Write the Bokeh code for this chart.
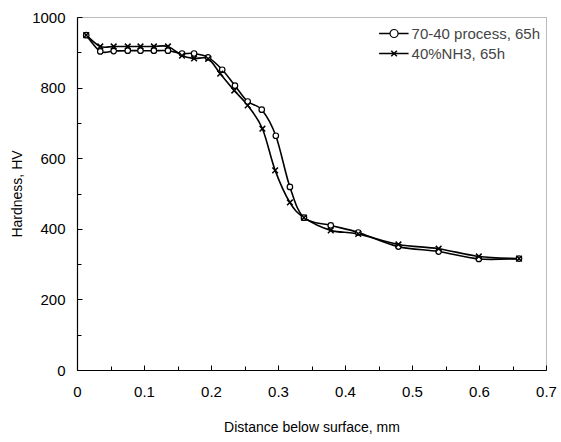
import numpy as np
from bokeh.plotting import figure
from bokeh.models import ColumnDataSource, FixedTicker, Legend, LegendItem, Range1d
from bokeh.embed import file_html
from bokeh.resources import INLINE

# ---- data ----
s1_name = "70-40 process, 65h"
s1_x = [0.013, 0.034, 0.054, 0.075, 0.094, 0.114, 0.135, 0.156, 0.174, 0.195, 0.216, 0.235,
        0.254, 0.275, 0.296, 0.317, 0.338, 0.378, 0.419, 0.479, 0.539, 0.599, 0.659]
s1_y = [950, 904, 905, 906, 906, 906, 906, 898, 898, 887, 852, 807,
        762, 739, 665, 520, 433, 411, 391, 351, 337, 316, 317]

s2_name = "40%NH3, 65h"
s2_x = [0.013, 0.034, 0.054, 0.075, 0.094, 0.114, 0.135, 0.156, 0.174, 0.195, 0.213, 0.234,
        0.254, 0.276, 0.295, 0.317, 0.338, 0.378, 0.419, 0.479, 0.539, 0.599, 0.659]
s2_y = [950, 918, 918, 918, 918, 918, 918, 892, 884, 883, 841, 793,
        751, 685, 567, 476, 433, 397, 387, 357, 345, 323, 317]

x_ticks = [0, 0.1, 0.2, 0.3, 0.4, 0.5, 0.6, 0.7]
x_tick_labels = ["0", "0.1", "0.2", "0.3", "0.4", "0.5", "0.6", "0.7"]
x_minor = [0.05, 0.15, 0.25, 0.35, 0.45, 0.55, 0.65]
y_ticks = [0, 200, 400, 600, 800, 1000]
y_minor = [100, 300, 500, 700, 900]

FONT = "Liberation Sans"


def smooth_source(xs, ys):
    """Bezier segments (Catmull-Rom style smoothing, as spreadsheet 'smoothed line')."""
    x = np.asarray(xs, float)
    y = np.asarray(ys, float)
    xp = np.concatenate([[x[0]], x, [x[-1]]])
    yp = np.concatenate([[y[0]], y, [y[-1]]])
    n = len(x) - 1
    x0 = x[:-1]; y0 = y[:-1]; x1 = x[1:]; y1 = y[1:]
    cx0 = x0 + (xp[2:n + 2] - xp[0:n]) / 6.0
    cy0 = y0 + (yp[2:n + 2] - yp[0:n]) / 6.0
    cx1 = x1 - (xp[3:n + 3] - xp[1:n + 1]) / 6.0
    cy1 = y1 - (yp[3:n + 3] - yp[1:n + 1]) / 6.0
    return ColumnDataSource(dict(x0=x0, y0=y0, x1=x1, y1=y1,
                                 cx0=cx0, cy0=cy0, cx1=cx1, cy1=cy1))


p = figure(width=561, height=442, output_backend="svg", toolbar_location=None,
           x_range=Range1d(0, 0.7), y_range=Range1d(0, 1000),
           min_border_left=77, min_border_right=15, min_border_top=17,
           min_border_bottom=72)

p.background_fill_color = "white"
p.border_fill_color = "white"
p.grid.visible = False
p.outline_line_color = "#777777"
p.outline_line_dash = "1 1"
p.outline_line_width = 1

# axes
p.xaxis.ticker = FixedTicker(ticks=x_ticks, minor_ticks=x_minor)
p.xaxis.major_label_overrides = {t: l for t, l in zip(x_ticks, x_tick_labels)}
p.yaxis.ticker = FixedTicker(ticks=y_ticks, minor_ticks=y_minor)
for ax in (p.xaxis, p.yaxis):
    ax.axis_line_color = "black"
    ax.axis_line_width = 1.2
    ax.major_tick_line_color = "black"
    ax.minor_tick_line_color = "black"
    ax.major_tick_in = 5
    ax.major_tick_out = 0
    ax.minor_tick_in = 4
    ax.minor_tick_out = 0
    ax.major_label_text_font = FONT
    ax.major_label_text_font_size = "15px"
    ax.major_label_text_color = "black"
    ax.axis_label_text_font = FONT
    ax.axis_label_text_font_size = "14px"
    ax.axis_label_text_font_style = "normal"
    ax.axis_label_text_color = "black"

p.xaxis.axis_label = "Distance below surface, mm"
p.yaxis.axis_label = "Hardness, HV"
p.xaxis.major_label_standoff = 16
p.xaxis.axis_label_standoff = 19
p.yaxis.major_label_standoff = 12
p.yaxis.axis_label_standoff = 4

# series
src1 = smooth_source(s1_x, s1_y)
src2 = smooth_source(s2_x, s2_y)
l1 = p.bezier(x0="x0", y0="y0", x1="x1", y1="y1", cx0="cx0", cy0="cy0", cx1="cx1", cy1="cy1",
              source=src1, line_color="black", line_width=1.6)
l2 = p.bezier(x0="x0", y0="y0", x1="x1", y1="y1", cx0="cx0", cy0="cy0", cx1="cx1", cy1="cy1",
              source=src2, line_color="black", line_width=1.6)
m1 = p.scatter(s1_x, s1_y, marker="circle", size=5.5, fill_color="white",
               line_color="black", line_width=1.2)
m2 = p.scatter(s2_x, s2_y, marker="x", size=8, line_color="black", line_width=1.5)

legend = Legend(items=[LegendItem(label=s1_name, renderers=[l1, m1]),
                       LegendItem(label=s2_name, renderers=[l2, m2])],
                location="top_right", border_line_alpha=0, background_fill_alpha=0,
                label_text_font=FONT, label_text_font_size="15px",
                glyph_width=30, glyph_height=20, label_height=20, label_standoff=3,
                spacing=0, padding=2, margin=4)
p.add_layout(legend)

open("out.html", "w").write(file_html(p, INLINE))
